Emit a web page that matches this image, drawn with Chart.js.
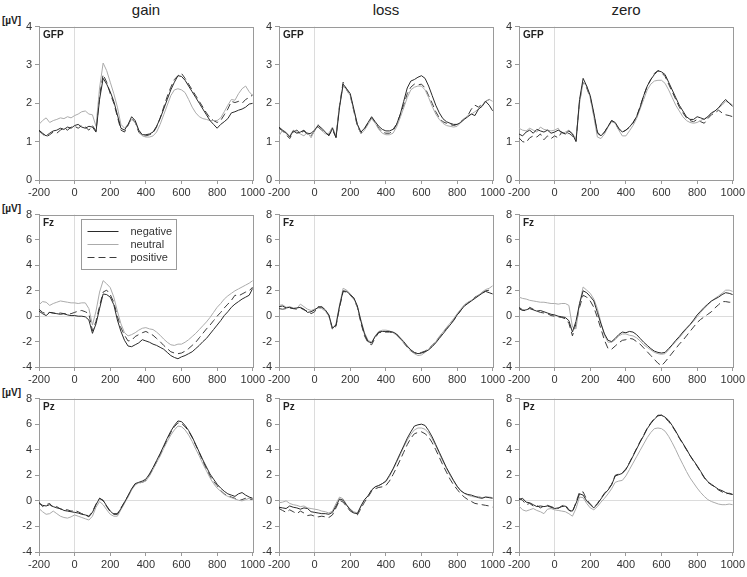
<!DOCTYPE html>
<html>
<head>
<meta charset="utf-8">
<script src="https://cdn.jsdelivr.net/npm/chart.js@4.4.1/dist/chart.umd.min.js"></script>
<style>
  body { margin: 0; background: #fff; }
  #wrap { position: relative; width: 747px; height: 577px; overflow: hidden; font-family: "Liberation Sans", Arial, sans-serif; }
  canvas { position: absolute; }
  .title { position: absolute; top: 1px; width: 120px; text-align: center; font-size: 15px; color: #222; }
  .unit { position: absolute; left: 2px; font-size: 10px; font-weight: bold; color: #222; }
</style>
</head>
<body>
<div id="wrap"></div>
<script>
// time axis (ms)
var times = [-200,-180,-160,-140,-120,-100,-80,-60,-40,-20,
  0,20,40,60,80,100,120,140,160,180,
  200,220,240,260,280,300,320,340,360,380,
  400,420,440,460,480,500,520,540,560,580,
  600,620,640,660,680,700,720,740,760,780,
  800,820,840,860,880,900,920,940,960,980,
  1000];

var conditions = ['gain', 'loss', 'zero'];
var sites = ['GFP', 'Fz', 'Pz'];
var seriesNames = ['negative', 'neutral', 'positive'];

// ---- GFP ----
var gainGfpNeg = [1.30,1.22,1.15,1.22,1.28,1.30,1.35,1.32,1.38,1.35,
  1.42,1.45,1.38,1.35,1.40,1.38,1.25,2.10,2.65,2.50,
  2.30,2.05,1.70,1.35,1.30,1.45,1.65,1.55,1.30,1.18,
  1.18,1.20,1.25,1.40,1.60,1.85,2.10,2.35,2.55,2.72,
  2.70,2.60,2.45,2.30,2.15,2.00,1.85,1.70,1.55,1.45,
  1.35,1.45,1.52,1.60,1.75,1.78,1.82,1.85,1.90,1.98,
  2.00];
var gainGfpNeu = [1.45,1.55,1.62,1.50,1.55,1.58,1.62,1.60,1.65,1.62,
  1.68,1.72,1.78,1.80,1.72,1.70,1.40,2.40,3.05,2.85,
  2.55,2.25,1.90,1.45,1.35,1.45,1.58,1.50,1.30,1.15,
  1.12,1.12,1.15,1.25,1.45,1.70,1.95,2.20,2.35,2.38,
  2.35,2.28,2.10,1.90,1.75,1.65,1.60,1.58,1.55,1.55,
  1.55,1.62,1.78,1.95,2.10,2.08,2.25,2.38,2.45,2.30,
  2.20];
var gainGfpPos = [1.28,1.20,1.12,1.18,1.25,1.22,1.30,1.35,1.30,1.38,
  1.40,1.35,1.42,1.38,1.30,1.42,1.28,2.20,2.75,2.55,
  2.25,2.00,1.65,1.30,1.25,1.42,1.62,1.50,1.25,1.15,
  1.15,1.18,1.22,1.38,1.62,1.90,2.18,2.42,2.62,2.72,
  2.78,2.65,2.50,2.35,2.20,2.05,1.90,1.75,1.62,1.55,
  1.50,1.55,1.70,1.85,2.05,2.02,2.05,2.00,2.10,2.15,
  2.22];

var lossGfpNeg = [1.38,1.30,1.22,1.12,1.28,1.22,1.25,1.30,1.20,1.22,
  1.30,1.42,1.35,1.25,1.15,1.35,1.10,1.90,2.50,2.38,
  2.25,1.85,1.45,1.25,1.35,1.50,1.65,1.52,1.40,1.32,
  1.28,1.28,1.32,1.45,1.70,2.05,2.40,2.58,2.62,2.68,
  2.72,2.65,2.45,2.20,1.95,1.75,1.60,1.52,1.48,1.45,
  1.45,1.50,1.58,1.65,1.72,1.68,1.85,1.92,2.05,1.95,
  1.80];
var lossGfpNeu = [1.15,1.30,1.25,1.15,1.30,1.25,1.20,1.15,1.25,1.10,
  1.30,1.45,1.30,1.20,1.22,1.38,1.15,1.95,2.45,2.35,
  2.20,1.82,1.45,1.20,1.30,1.45,1.60,1.48,1.32,1.22,
  1.18,1.18,1.22,1.38,1.62,1.88,2.15,2.35,2.42,2.45,
  2.45,2.35,2.15,1.92,1.72,1.58,1.48,1.42,1.40,1.38,
  1.40,1.50,1.60,1.68,1.72,1.78,1.85,1.95,2.05,2.10,
  2.05];
var lossGfpPos = [1.35,1.28,1.18,1.08,1.25,1.30,1.22,1.28,1.18,1.15,
  1.28,1.38,1.30,1.22,1.18,1.30,1.12,1.95,2.55,2.35,
  2.20,1.80,1.40,1.22,1.32,1.48,1.62,1.50,1.35,1.25,
  1.22,1.22,1.28,1.45,1.70,1.95,2.25,2.42,2.50,2.48,
  2.50,2.40,2.20,2.00,1.78,1.62,1.52,1.48,1.45,1.42,
  1.45,1.52,1.60,1.68,1.85,1.95,1.90,1.98,2.05,2.10,
  2.08];

var zeroGfpNeg = [1.20,1.15,1.25,1.30,1.22,1.32,1.28,1.25,1.30,1.22,
  1.25,1.30,1.25,1.20,1.28,1.20,1.00,2.10,2.65,2.45,
  2.20,1.75,1.25,1.15,1.25,1.40,1.55,1.50,1.35,1.25,
  1.30,1.38,1.50,1.65,1.90,2.20,2.45,2.62,2.75,2.85,
  2.82,2.75,2.55,2.35,2.15,1.95,1.80,1.65,1.58,1.58,
  1.65,1.62,1.58,1.65,1.75,1.80,1.88,2.00,2.10,2.00,
  1.92];
var zeroGfpNeu = [1.35,1.30,1.28,1.35,1.30,1.25,1.38,1.32,1.30,1.28,
  1.30,1.35,1.20,1.25,1.30,1.22,1.05,2.00,2.55,2.45,
  2.15,1.65,1.12,1.08,1.20,1.38,1.52,1.48,1.30,1.15,
  1.15,1.28,1.42,1.60,1.85,2.10,2.35,2.50,2.58,2.60,
  2.60,2.52,2.35,2.15,1.95,1.80,1.65,1.55,1.50,1.48,
  1.50,1.55,1.60,1.65,1.72,1.80,1.88,1.95,2.05,2.02,
  1.95];
var zeroGfpPos = [1.10,1.00,0.98,1.10,1.15,1.12,1.20,1.05,1.15,1.08,
  1.15,1.10,1.25,1.18,1.22,1.15,1.02,2.05,2.55,2.40,
  2.15,1.70,1.22,1.15,1.25,1.40,1.55,1.48,1.32,1.25,
  1.30,1.38,1.48,1.65,1.92,2.20,2.45,2.62,2.78,2.85,
  2.80,2.70,2.50,2.30,2.10,1.90,1.75,1.62,1.55,1.52,
  1.58,1.52,1.48,1.60,1.70,1.75,1.82,1.75,1.70,1.68,
  1.65];

// ---- Fz ----
var gainFzNeg = [0.40,0.20,0.05,0.30,0.25,0.20,0.15,0.20,0.10,0.05,
  0.05,0.00,0.00,-0.05,-0.30,-1.35,-0.60,0.60,1.75,1.70,
  1.50,0.90,-0.30,-1.20,-1.90,-2.35,-2.40,-2.25,-2.10,-1.85,
  -1.95,-2.05,-2.20,-2.30,-2.45,-2.60,-2.85,-3.10,-3.25,-3.35,
  -3.20,-3.10,-2.95,-2.80,-2.55,-2.30,-2.00,-1.75,-1.40,-1.05,
  -0.70,-0.35,0.05,0.35,0.70,0.95,1.15,1.35,1.50,1.65,
  2.20];
var gainFzNeu = [0.90,1.15,1.10,0.85,1.00,1.10,1.20,1.15,1.10,1.05,
  1.05,1.00,1.05,1.05,0.60,-0.70,0.40,1.90,2.80,2.55,
  2.25,1.50,0.40,-0.60,-1.30,-1.55,-1.45,-1.30,-1.10,-0.95,
  -0.90,-1.00,-1.05,-1.25,-1.50,-1.80,-2.05,-2.25,-2.30,-2.20,
  -2.20,-2.05,-1.85,-1.60,-1.35,-1.05,-0.75,-0.45,-0.10,0.30,
  0.70,1.00,1.35,1.60,1.80,2.00,2.15,2.30,2.45,2.60,
  2.80];
var gainFzPos = [0.55,0.30,0.20,0.30,0.25,0.20,0.25,0.20,0.15,0.20,
  0.30,0.40,0.45,0.35,0.20,-1.15,-0.40,0.80,1.90,2.05,
  1.70,1.10,0.00,-0.90,-1.50,-1.95,-1.90,-1.60,-1.45,-1.30,
  -1.20,-1.35,-1.50,-1.75,-2.00,-2.30,-2.55,-2.80,-2.90,-2.95,
  -2.90,-2.75,-2.55,-2.30,-2.05,-1.70,-1.35,-1.00,-0.70,-0.35,
  0.00,0.30,0.65,0.95,1.25,1.65,1.60,1.75,1.90,2.00,
  2.30];

var lossFzNeg = [0.75,0.80,0.65,0.70,0.60,0.65,0.70,0.55,0.30,0.35,
  0.50,0.70,0.75,0.50,0.10,-0.95,-0.70,0.80,2.00,1.95,
  1.70,1.45,0.80,-0.40,-1.40,-2.00,-2.10,-1.60,-1.25,-1.20,
  -1.20,-1.20,-1.25,-1.40,-1.70,-2.00,-2.35,-2.65,-2.85,-2.95,
  -2.90,-2.80,-2.65,-2.40,-2.10,-1.75,-1.40,-1.05,-0.70,-0.35,
  0.10,0.45,0.80,1.00,1.20,1.40,1.60,1.80,1.95,1.85,
  1.75];
var lossFzNeu = [0.85,0.90,0.70,0.75,0.65,0.60,0.95,0.75,0.55,0.45,
  0.55,0.65,0.60,0.40,0.00,-1.00,-0.60,0.90,2.20,2.05,
  1.75,1.40,0.75,-0.30,-1.30,-1.90,-2.05,-1.55,-1.20,-1.10,
  -1.10,-1.15,-1.30,-1.50,-1.80,-2.10,-2.40,-2.70,-2.95,-3.10,
  -3.05,-2.85,-2.60,-2.30,-2.00,-1.60,-1.25,-0.90,-0.55,-0.20,
  0.20,0.55,0.90,1.10,1.25,1.45,1.65,1.90,2.10,2.20,
  2.40];
var lossFzPos = [0.60,0.55,0.60,0.65,0.60,0.55,0.65,0.50,0.40,0.20,
  0.35,0.75,0.70,0.45,0.05,-1.05,-0.80,0.70,1.95,1.90,
  1.65,1.35,0.70,-0.55,-1.55,-2.10,-2.25,-1.70,-1.30,-1.25,
  -1.25,-1.25,-1.30,-1.45,-1.75,-2.10,-2.45,-2.75,-2.90,-2.95,
  -2.85,-2.75,-2.55,-2.30,-2.00,-1.65,-1.30,-0.95,-0.60,-0.30,
  0.05,0.45,0.80,1.05,1.25,1.50,1.65,1.85,2.00,2.05,
  2.10];

var zeroFzNeg = [0.60,0.45,0.50,0.60,0.50,0.40,0.45,0.35,0.25,0.15,
  0.10,0.00,-0.05,-0.10,-0.35,-1.25,-0.40,1.00,2.00,1.85,
  1.55,1.20,0.30,-0.60,-1.40,-1.90,-2.00,-1.75,-1.45,-1.25,
  -1.30,-1.20,-1.25,-1.45,-1.75,-2.05,-2.30,-2.55,-2.75,-2.85,
  -2.90,-2.85,-2.55,-2.25,-1.90,-1.60,-1.25,-0.95,-0.65,-0.30,
  0.10,0.40,0.70,0.95,1.20,1.35,1.50,1.70,1.85,1.80,
  1.70];
var zeroFzNeu = [1.50,1.40,1.35,1.25,1.20,1.15,1.10,1.10,1.05,1.00,
  1.00,0.95,1.00,1.00,0.85,-0.85,-1.00,1.00,2.30,2.05,
  1.80,1.35,0.60,-0.50,-1.50,-2.05,-2.05,-1.85,-1.55,-1.40,
  -1.40,-1.50,-1.55,-1.70,-1.95,-2.25,-2.45,-2.65,-2.85,-2.95,
  -3.00,-2.95,-2.65,-2.30,-2.00,-1.70,-1.35,-1.00,-0.70,-0.40,
  -0.05,0.30,0.60,0.90,1.15,1.40,1.60,1.80,2.05,2.05,
  1.95];
var zeroFzPos = [0.70,0.50,0.40,0.70,0.55,0.40,0.30,0.25,0.20,0.05,
  0.00,-0.05,-0.10,-0.20,-0.55,-1.55,-0.60,0.70,1.65,1.50,
  1.20,0.70,-0.10,-1.00,-1.90,-2.55,-2.60,-2.35,-2.10,-1.90,
  -1.85,-1.75,-1.80,-2.00,-2.20,-2.50,-2.80,-3.10,-3.40,-3.70,
  -3.90,-3.60,-3.25,-2.90,-2.55,-2.20,-1.90,-1.55,-1.20,-0.85,
  -0.50,-0.25,-0.05,0.15,0.35,0.65,0.90,1.15,1.15,1.10,
  1.10];

// ---- Pz ----
var gainPzNeg = [-0.20,-0.35,-0.40,-0.30,-0.45,-0.55,-0.60,-0.75,-0.80,-0.85,
  -0.90,-0.95,-1.05,-1.10,-1.25,-0.90,-0.30,0.20,0.05,-0.40,
  -0.80,-1.05,-1.05,-0.60,-0.10,0.40,0.95,1.35,1.45,1.55,
  1.70,2.10,2.60,3.15,3.70,4.30,4.90,5.45,5.90,6.25,
  6.20,5.90,5.50,5.00,4.40,3.80,3.20,2.65,2.10,1.70,
  1.30,1.00,0.75,0.55,0.45,0.35,0.55,0.65,0.45,0.30,
  0.20];
var gainPzNeu = [-0.60,-0.85,-1.05,-1.00,-0.80,-1.00,-1.20,-1.30,-1.35,-1.25,
  -1.10,-1.20,-1.30,-1.40,-1.50,-1.20,-0.50,-0.05,-0.30,-0.70,
  -1.05,-1.20,-1.20,-0.70,-0.20,0.30,0.85,1.25,1.40,1.45,
  1.55,1.95,2.45,3.00,3.50,4.10,4.65,5.15,5.55,5.85,
  5.80,5.55,5.15,4.65,4.05,3.50,2.90,2.35,1.80,1.35,
  1.00,0.75,0.50,0.35,0.25,0.15,0.05,0.00,0.10,0.20,
  0.15];
var gainPzPos = [-0.10,-0.45,-0.30,-0.20,-0.55,-0.45,-0.65,-0.70,-0.70,-0.80,
  -0.75,-0.85,-1.00,-1.05,-1.20,-0.85,-0.25,0.20,0.00,-0.45,
  -0.85,-1.00,-1.00,-0.55,-0.10,0.40,0.90,1.30,1.40,1.45,
  1.60,2.00,2.50,3.05,3.60,4.20,4.80,5.35,5.80,6.10,
  6.05,5.80,5.45,4.95,4.35,3.75,3.10,2.50,1.95,1.50,
  1.20,0.80,0.55,0.40,0.30,0.20,0.00,0.10,0.20,0.15,
  0.10];

var lossPzNeg = [-0.50,-0.55,-0.60,-0.40,-0.50,-0.55,-0.65,-0.55,-0.60,-0.85,
  -0.90,-0.95,-1.00,-1.00,-1.05,-0.90,-0.40,0.15,0.05,-0.35,
  -0.70,-0.95,-1.00,-0.40,0.10,0.40,0.85,1.10,1.20,1.35,
  1.55,2.00,2.50,3.10,3.70,4.30,4.90,5.40,5.85,5.95,
  6.00,5.90,5.50,5.00,4.40,3.80,3.20,2.60,2.10,1.60,
  1.15,0.80,0.60,0.50,0.45,0.35,0.25,0.20,0.30,0.25,
  0.20];
var lossPzNeu = [-0.15,-0.10,0.00,-0.20,-0.30,-0.35,-0.45,-0.40,-0.55,-0.60,
  -0.65,-0.70,-0.80,-0.85,-0.95,-0.80,-0.20,0.30,0.15,-0.30,
  -0.65,-0.85,-0.95,-0.45,0.05,0.40,0.85,1.10,1.20,1.35,
  1.50,1.90,2.45,3.00,3.60,4.20,4.75,5.20,5.55,5.70,
  5.70,5.60,5.30,4.85,4.30,3.70,3.10,2.55,2.00,1.55,
  1.10,0.80,0.60,0.45,0.35,0.30,0.35,0.25,0.30,0.30,
  0.25];
var lossPzPos = [-0.60,-0.75,-0.90,-0.70,-0.85,-1.00,-0.80,-0.95,-1.15,-1.10,
  -1.20,-1.25,-1.20,-1.25,-1.30,-1.10,-0.55,0.05,-0.10,-0.45,
  -0.80,-0.95,-1.10,-0.60,-0.10,0.30,0.75,0.95,1.05,1.10,
  1.20,1.55,2.05,2.60,3.20,3.80,4.40,4.90,5.25,5.35,
  5.40,5.25,5.00,4.55,4.00,3.40,2.80,2.25,1.70,1.25,
  0.90,0.55,0.30,0.10,-0.05,-0.20,-0.25,-0.30,-0.35,-0.40,
  -0.50];

var zeroPzNeg = [0.10,0.20,-0.10,-0.15,-0.30,-0.45,-0.40,-0.45,-0.40,-0.50,
  -0.60,-0.55,-0.45,-0.40,-0.75,-0.80,-0.20,0.55,0.45,0.00,
  -0.30,-0.55,-0.25,0.15,0.55,0.85,1.25,1.95,2.05,2.15,
  2.45,2.95,3.50,4.05,4.60,5.10,5.65,6.05,6.40,6.65,
  6.70,6.55,6.30,5.90,5.45,4.95,4.50,4.05,3.55,3.15,
  2.75,2.30,1.85,1.50,1.25,1.10,0.90,0.80,0.65,0.55,
  0.50];
var zeroPzNeu = [-0.40,-0.70,-0.80,-0.70,-0.60,-0.75,-0.85,-1.00,-0.65,-0.60,
  -0.70,-0.75,-0.80,-0.85,-1.00,-1.20,-0.60,0.30,0.25,-0.20,
  -0.55,-0.70,-0.45,-0.10,0.20,0.55,0.95,1.45,1.55,1.60,
  1.95,2.45,2.95,3.45,3.95,4.45,4.95,5.35,5.65,5.70,
  5.65,5.45,5.05,4.55,4.00,3.40,2.85,2.30,1.80,1.40,
  1.00,0.65,0.35,0.10,-0.05,-0.15,-0.25,-0.30,-0.30,-0.25,
  -0.30];
var zeroPzPos = [0.20,0.05,-0.30,-0.20,-0.40,-0.35,-0.55,-0.40,-0.35,-0.45,
  -0.55,-0.60,-0.40,-0.30,-0.70,-0.90,-0.10,0.70,0.70,0.10,
  -0.25,-0.50,-0.20,0.20,0.60,0.90,1.30,2.00,2.10,2.20,
  2.50,3.00,3.55,4.10,4.65,5.15,5.70,6.10,6.45,6.70,
  6.70,6.50,6.20,5.85,5.40,4.90,4.45,4.00,3.55,3.10,
  2.70,2.25,1.80,1.45,1.30,1.10,0.85,0.70,0.55,0.60,
  0.50];

var yTicksGfp = [0, 4, 1];   // min, max, step
var yTicksErp = [-4, 8, 2];

// panel data grid: rows = sites, cols = conditions
var grid = [
  [[gainGfpNeg, gainGfpNeu, gainGfpPos], [lossGfpNeg, lossGfpNeu, lossGfpPos], [zeroGfpNeg, zeroGfpNeu, zeroGfpPos]],
  [[gainFzNeg, gainFzNeu, gainFzPos], [lossFzNeg, lossFzNeu, lossFzPos], [zeroFzNeg, zeroFzNeu, zeroFzPos]],
  [[gainPzNeg, gainPzNeu, gainPzPos], [lossPzNeg, lossPzNeu, lossPzPos], [zeroPzNeg, zeroPzNeu, zeroPzPos]]
];

// layout (plot area positions)
var colLeft = [39, 279, 519];
var rowTop = [25, 213, 397];
var rowH = [155, 154, 155];
var plotW = 214;
var padTop = 8, padRight = 14, yAxisW = 39, xAxisH = 22;

var styles = [
  { color: '#2a2a2a', dash: [] },
  { color: '#ababab', dash: [] },
  { color: '#3c3c3c', dash: [7, 4] }
];
var FONT = '"Liberation Sans", Arial, sans-serif';

var wrap = document.getElementById('wrap');

// titles
conditions.forEach(function(c, i) {
  var d = document.createElement('div');
  d.className = 'title';
  d.textContent = c;
  d.style.left = (colLeft[i] + plotW / 2 - 60) + 'px';
  wrap.appendChild(d);
});
rowTop.forEach(function(t) {
  var d = document.createElement('div');
  d.className = 'unit';
  d.textContent = '[µV]';
  d.style.top = (t - 10) + 'px';
  wrap.appendChild(d);
});

// frame, site label and legend
var panelDeco = {
  id: 'panelDeco',
  beforeDatasetsDraw: function(chart) {
    var a = chart.chartArea, ctx = chart.ctx;
    ctx.save();
    ctx.strokeStyle = '#9a9a9a';
    ctx.lineWidth = 1;
    ctx.strokeRect(Math.round(a.left) + 0.5, Math.round(a.top) + 0.5, Math.round(a.right - a.left), Math.round(a.bottom - a.top));
    ctx.restore();
  },
  afterDatasetsDraw: function(chart, args, opts) {
    var a = chart.chartArea, ctx = chart.ctx;
    ctx.save();
    ctx.fillStyle = '#222';
    ctx.font = 'bold 10px ' + FONT;
    ctx.textBaseline = 'middle';
    ctx.fillText(opts.site, a.left + 4, a.top + 9);
    if (opts.legend) {
      var bx = Math.round(a.left) + 42.5, by = Math.round(a.top) + 4.5;
      ctx.fillStyle = '#fff';
      ctx.fillRect(bx, by, 95, 50);
      ctx.strokeStyle = '#9a9a9a';
      ctx.strokeRect(bx, by, 95, 50);
      ctx.font = '11px ' + FONT;
      chart.data.datasets.forEach(function(ds, i) {
        var ly = by + 12 + i * 13;
        ctx.strokeStyle = ds.borderColor;
        ctx.setLineDash(ds.borderDash || []);
        ctx.beginPath();
        ctx.moveTo(bx + 6, ly);
        ctx.lineTo(bx + 37, ly);
        ctx.stroke();
        ctx.setLineDash([]);
        ctx.fillStyle = '#333';
        ctx.fillText(ds.label, bx + 49, ly);
      });
    }
    ctx.restore();
  }
};

function zeroLine(ctx) {
  return ctx.tick && ctx.tick.value === 0 ? '#dcdcdc' : 'rgba(0,0,0,0)';
}
function plainTick(value) {
  return String(value);
}

for (var r = 0; r < 3; r++) {
  for (var c = 0; c < 3; c++) {
    var cv = document.createElement('canvas');
    var w = yAxisW + plotW + padRight;
    var h = padTop + rowH[r] + xAxisH;
    cv.width = w; cv.height = h;
    cv.style.left = (colLeft[c] - yAxisW) + 'px';
    cv.style.top = (rowTop[r] - padTop) + 'px';
    wrap.appendChild(cv);

    var yt = r === 0 ? yTicksGfp : yTicksErp;
    var datasets = grid[r][c].map(function(vals, k) {
      return {
        label: seriesNames[k],
        data: times.map(function(t, i) { return { x: t, y: vals[i] }; }),
        borderColor: styles[k].color,
        borderDash: styles[k].dash,
        borderWidth: 1,
        pointRadius: 0,
        tension: 0,
        fill: false
      };
    });

    new Chart(cv.getContext('2d'), {
      type: 'line',
      data: { datasets: datasets },
      options: {
        responsive: false,
        animation: false,
        devicePixelRatio: 1,
        layout: { padding: { top: padTop, right: padRight, left: 0, bottom: 0 } },
        plugins: {
          legend: { display: false },
          tooltip: { enabled: false },
          panelDeco: { site: sites[r], legend: r === 1 && c === 0 }
        },
        scales: {
          x: {
            type: 'linear', min: -200, max: 1000,
            ticks: { stepSize: 200, autoSkip: false, maxRotation: 0, color: '#333', padding: 2, font: { family: FONT, size: 11 }, callback: plainTick },
            grid: { color: zeroLine, tickColor: '#9a9a9a', tickLength: 4 },
            border: { color: '#9a9a9a' },
            afterFit: function(s) { s.height = xAxisH; }
          },
          y: {
            min: yt[0], max: yt[1],
            ticks: { stepSize: yt[2], color: '#333', padding: 3, font: { family: FONT, size: 11 }, callback: plainTick },
            grid: { color: r === 0 ? 'rgba(0,0,0,0)' : zeroLine, tickColor: '#9a9a9a', tickLength: 4 },
            border: { color: '#9a9a9a' },
            afterFit: function(s) { s.width = yAxisW; }
          }
        }
      },
      plugins: [panelDeco]
    });
  }
}
</script>
</body>
</html>
